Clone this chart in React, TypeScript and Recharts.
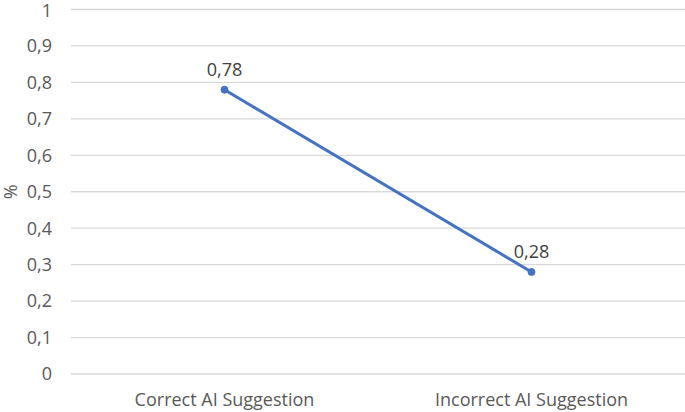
import React from "react";
import { LineChart, Line, XAxis, YAxis, CartesianGrid, LabelList, Label } from "recharts";

const categories = ["Correct AI Suggestion", "Incorrect AI Suggestion"];
const values = [0.78, 0.28];
const yTicks = [0, 0.1, 0.2, 0.3, 0.4, 0.5, 0.6, 0.7, 0.8, 0.9, 1];

const data = categories.map((c, i) => ({ name: c, value: values[i] }));
const fmt = (v: number) => String(v).replace(".", ",");
const FONT = "'Open Sans', sans-serif";
const FS = 18;

export default function App() {
  return (
    <div style={{ position: "absolute", left: 0, top: 0, width: 685, height: 412, background: "#fff" }}>
      <LineChart width={685} height={412} data={data} margin={{ top: 9.5, right: 0, bottom: 0, left: 0 }}>
        <CartesianGrid vertical={false} stroke="#d9d9d9" strokeWidth={1.3} />
        <XAxis
          dataKey="name"
          axisLine={false}
          tickLine={false}
          padding={{ left: 153.5, right: 153.5 }}
          tick={{ fill: "#595959", fontSize: FS, fontFamily: FONT }}
          tickMargin={13}
          height={38}
        />
        <YAxis
          domain={[0, 1]}
          ticks={yTicks}
          axisLine={false}
          tickLine={false}
          tickSize={0}
          tickMargin={19}
          tickFormatter={fmt}
          width={71}
          tick={{ fill: "#595959", fontSize: FS, fontFamily: FONT }}
        >
          <Label value="%" angle={-90} position="insideLeft" offset={11} style={{ fill: "#595959", fontSize: FS, fontFamily: FONT, textAnchor: "middle" }} />
        </YAxis>
        <Line
          dataKey="value"
          stroke="#4472C4"
          strokeWidth={3}
          dot={{ r: 3.5, fill: "#4472C4", stroke: "#4472C4", strokeWidth: 1 }}
          isAnimationActive={false}
        >
          <LabelList dataKey="value" position="top" offset={14} formatter={(v: number) => fmt(v)} style={{ fill: "#404040", fontSize: FS, fontFamily: FONT }} />
        </Line>
      </LineChart>
    </div>
  );
}
